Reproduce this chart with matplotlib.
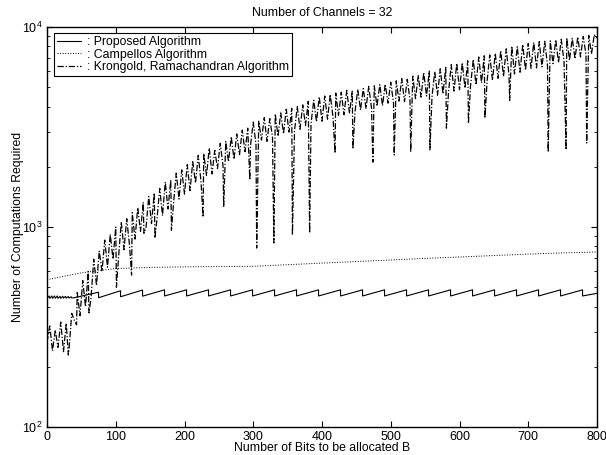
import numpy as np
import matplotlib
matplotlib.use("Agg")
import matplotlib.pyplot as plt

plt.rcParams['font.family'] = ['Liberation Sans', 'DejaVu Sans']

# Proposed algorithm: small ripple up to ~40 bits, then a sawtooth with period 32
proposed_bits = [0, 3, 4, 7, 8, 11, 12, 15, 16, 19, 20, 23, 24, 27, 28, 31, 32, 35, 36, 40,
                 75, 75, 107, 107, 139, 139, 171, 171, 203, 203, 235, 235, 267, 267,
                 299, 299, 331, 331, 363, 363, 395, 395, 427, 427, 459, 459, 491, 491,
                 523, 523, 555, 555, 587, 587, 619, 619, 651, 651, 683, 683, 715, 715,
                 747, 747, 779, 779, 800]
proposed_vals = [440, 452, 440, 452, 440, 452, 440, 452, 440, 450, 440, 450, 441, 450, 441, 449, 442, 448, 442, 443,
                 472, 443, 480, 448, 484, 451, 485, 452, 485, 452, 485, 452, 485, 452,
                 485, 452, 485, 452, 485, 452, 485, 452, 485, 452, 485, 452, 485, 452,
                 485, 452, 485, 452, 485, 452, 485, 452, 485, 452, 485, 452, 485, 452,
                 485, 452, 485, 452, 466]

# Campellos algorithm (read every 50 bits)
campellos_bits = [0, 50, 100, 150, 200, 250, 300, 350, 400, 450, 500, 550, 600, 650, 700, 750, 800]
campellos_vals = [545, 590, 620, 628, 632, 634, 636, 648, 660, 672, 684, 697, 708, 720, 732, 742, 750]

# Krongold, Ramachandran algorithm, read every 4 bits (0..800)
krongold_vals = [
    265, 320, 240, 305, 250, 335, 238, 330, 245, 370,
    340, 470, 360, 540, 400, 600, 440, 690, 510, 760,
    600, 860, 630, 920, 690, 1000, 700, 1060, 770, 1100,
    810, 1180, 870, 1250, 950, 1330, 990, 1420, 1040, 1480,
    1100, 1560, 1140, 1680, 1230, 1720, 1310, 1860, 1380, 1930,
    1460, 2050, 1520, 2120, 1660, 2280, 1690, 2330, 1810, 2480,
    1840, 2420, 1960, 2620, 2030, 2680, 2120, 2830, 2180, 2920,
    2300, 3050, 2380, 3120, 2560, 3350, 2580, 3380, 2720, 3520,
    2680, 3480, 2820, 3680, 2840, 3720, 2920, 3880, 2980, 3920,
    3020, 4000, 3080, 4080, 3220, 4250, 3280, 4300, 3360, 4480,
    3380, 4520, 3460, 4600, 3540, 4680, 3620, 4720, 3640, 4820,
    3700, 4780, 3760, 4880, 3840, 4920, 3920, 5050, 3940, 5080,
    4020, 5150, 4040, 5180, 4160, 5300, 4180, 5380, 4260, 5520,
    4240, 5480, 4320, 5680, 4380, 5720, 4460, 5920, 4520, 6020,
    4480, 5980, 4560, 6180, 4640, 6280, 4720, 6480, 4780, 6580,
    4860, 6620, 4940, 6780, 5060, 6880, 5140, 7080, 5260, 7180,
    5300, 7250, 5420, 7380, 5540, 7620, 5660, 7780, 5760, 8020,
    5820, 7980, 5940, 8180, 6080, 8280, 6220, 8380, 6240, 8450,
    6320, 8480, 6440, 8520, 6560, 8640, 6640, 8680, 6760, 8820,
    6820, 8780, 6940, 8920, 7080, 8980, 7260, 9080, 7340, 9150,
    8800,
]
krongold_bits = list(range(0, 801, 4))

# isolated deep drops of the Krongold curve
dip_bits = [31, 43, 61, 101, 123, 141, 157, 181, 227, 257, 295, 305, 330, 357, 382,
            419, 445, 474, 505, 529, 557, 581, 613, 637, 673, 729, 755, 785]
dip_vals = [229, 324, 372, 500, 575, 930, 880, 964, 1120, 1260, 1720, 785, 832, 912, 933,
            2340, 2460, 2110, 2290, 2370, 2430, 3120, 3300, 3500, 4290, 2370, 2430, 2630]

kb = np.array(krongold_bits + dip_bits)
kv = np.array(krongold_vals + dip_vals)
order = np.argsort(kb, kind='stable')
kb, kv = kb[order], kv[order]

fig = plt.figure(figsize=(6.06, 4.55), dpi=100)
ax = fig.add_axes([47 / 606, 28 / 455, 550 / 606, 400 / 455])

ax.plot(proposed_bits, proposed_vals, '-', color='black', lw=0.8, label=': Proposed Algorithm')
ax.plot(campellos_bits, campellos_vals, ':', color='black', lw=0.7, label=': Campellos Algorithm')
ax.plot(kb, kv, color='black', lw=0.9, dashes=(5, 1.5, 1, 1.5),
        label=': Krongold, Ramachandran Algorithm')

ax.set_yscale('log')
ax.set_xlim(0, 800)
ax.set_ylim(100, 10000)
ax.set_xticks(range(0, 801, 100))

ax.tick_params(which='both', direction='in', top=True, right=True, labelsize=9, pad=3)
ax.tick_params(which='major', length=4)
ax.tick_params(which='minor', length=2)
for s in ax.spines.values():
    s.set_linewidth(1.0)

ax.set_title('Number of Channels = 32', fontsize=8.8, pad=8)
ax.set_xlabel('Number of Bits to be allocated B', fontsize=8.8, labelpad=-1)
ax.set_ylabel('Number of Computations Required', fontsize=8.8, labelpad=-1)

leg = ax.legend(loc='upper left', fontsize=8.8, handlelength=2.0, handletextpad=0.5,
                borderpad=0.25, labelspacing=0.05, fancybox=False, framealpha=1,
                edgecolor='black', bbox_to_anchor=(0.012, 0.985), borderaxespad=0)
leg.get_frame().set_linewidth(0.8)

fig.savefig('out.png', dpi=100)
